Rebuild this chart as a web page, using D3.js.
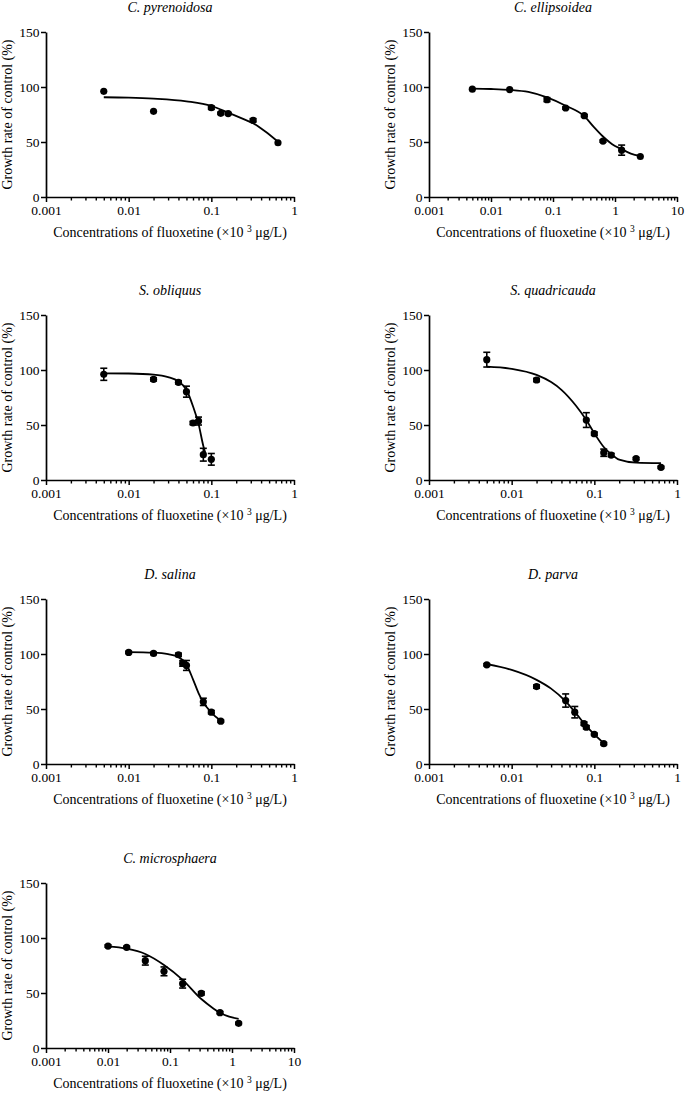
<!DOCTYPE html>
<html><head><meta charset="utf-8">
<script src="https://cdn.jsdelivr.net/npm/d3@7"></script>
<style>
body{margin:0;background:#fff}
text{font-family:"Liberation Serif","Times New Roman",serif;fill:#000}
</style>
</head><body><svg id="c" width="685" height="1093"></svg>
<script>
// ---------- DATA ----------
const xTickValues = [0.001, 0.01, 0.1, 1, 10];
const xTickLabels = ["0.001", "0.01", "0.1", "1", "10"];
const yTickValues = [0, 50, 100, 150];
const yTickLabels = ["0", "50", "100", "150"];
const xAxisTitle = "Concentrations of fluoxetine (\u00d710";
const xAxisTitleSup = "3";
const xAxisTitleEnd = " \u03bcg/L)";
const yAxisTitle = "Growth rate of control (%)";

const titles = ["C. pyrenoidosa", "C. ellipsoidea", "S. obliquus", "S. quadricauda", "D. salina", "D. parva", "C. microsphaera"];
const xMax = [1, 10, 1, 1, 1, 1, 10];

// C. pyrenoidosa
const pyrConc = [0.005, 0.02, 0.1, 0.13, 0.16, 0.32, 0.64];
const pyrGrowth = [96.1, 77.9, 81.2, 76.1, 75.8, 69.7, 49.3];
const pyrErr = [0, 0, 1.5, 1, 1, 1.5, 0];
const pyrFitX = [0.005, 0.01, 0.02, 0.05, 0.1, 0.13, 0.16, 0.25, 0.32, 0.45, 0.64];
const pyrFitY = [90.7, 90.3, 89.4, 87, 82.8, 79.5, 76.7, 70.5, 67, 59.5, 50.2];

// C. ellipsoidea
const ellConc = [0.005, 0.02, 0.08, 0.16, 0.32, 0.64, 1.28, 2.56];
const ellGrowth = [98.0, 97.7, 88.5, 80.9, 73.9, 50.8, 42.6, 36.8];
const ellErr = [0, 0, 1.8, 1, 1, 1, 4.6, 0];
const ellFitX = [0.005, 0.01, 0.02, 0.04, 0.08, 0.16, 0.32, 0.45, 0.64, 0.9, 1.28, 1.8, 2.56];
const ellFitY = [98.6, 98.2, 97.4, 95.5, 90.5, 83, 73.5, 64, 55, 48, 43.5, 39.5, 37.4];

// S. obliquus
const oblConc = [0.005, 0.02, 0.04, 0.05, 0.06, 0.07, 0.08, 0.1];
const oblGrowth = [96.1, 91.5, 88.8, 80.3, 51.8, 53.6, 23.0, 18.8];
const oblErr = [5.5, 1.5, 1.5, 5.0, 1.5, 3.6, 5.8, 5.3];
const oblFitX = [0.005, 0.01, 0.02, 0.03, 0.04, 0.05, 0.06, 0.07, 0.08, 0.085];
const oblFitY = [97, 96.8, 95.8, 93.5, 89.5, 82, 67, 51, 31, 24];

// S. quadricauda
const quaConc = [0.005, 0.02, 0.08, 0.1, 0.13, 0.16, 0.32, 0.64];
const quaGrowth = [109.4, 90.9, 54.5, 42.1, 24.8, 22.7, 19.4, 11.5];
const quaErr = [6.7, 1.5, 6.7, 1.5, 3.3, 1.5, 1, 1];
const quaFitX = [0.005, 0.01, 0.02, 0.03, 0.04, 0.06, 0.08, 0.1, 0.13, 0.16, 0.2, 0.32, 0.64];
const quaFitY = [103, 101, 95.5, 89, 82, 67.5, 54.5, 42.5, 30, 23.5, 18.5, 15.8, 15.3];

// D. salina
const salConc = [0.01, 0.02, 0.04, 0.045, 0.05, 0.08, 0.1, 0.13];
const salGrowth = [101.4, 100.5, 99.3, 91.4, 89.6, 56.5, 47.1, 38.9];
const salErr = [1, 1, 1.5, 2.5, 4.5, 3.3, 1.5, 1];
const salFitX = [0.01, 0.02, 0.03, 0.04, 0.05, 0.06, 0.07, 0.08, 0.1, 0.13];
const salFitY = [101.7, 101.2, 99.8, 97.2, 90.5, 77, 64.5, 56, 46.8, 39.5];

// D. parva
const parConc = [0.005, 0.02, 0.045, 0.058, 0.075, 0.08, 0.1, 0.13];
const parGrowth = [90.2, 70.4, 57.7, 47.1, 36.7, 33.4, 27.0, 18.5];
const parErr = [1, 1.5, 6, 5.2, 1.5, 1.5, 1, 1];
const parFitX = [0.005, 0.01, 0.02, 0.03, 0.045, 0.06, 0.08, 0.1, 0.13];
const parFitY = [90.7, 85.5, 76.5, 68.5, 57, 46, 34.5, 27, 19];

// C. microsphaera
const micConc = [0.01, 0.02, 0.04, 0.08, 0.16, 0.32, 0.64, 1.28];
const micGrowth = [92.7, 91.5, 79.4, 69.7, 58.5, 49.7, 32.1, 22.4];
const micErr = [1, 1, 4, 4, 4, 1.5, 1, 1];
const micFitX = [0.01, 0.02, 0.04, 0.08, 0.16, 0.32, 0.5, 0.64, 0.9, 1.28];
const micFitY = [92.4, 90.3, 85.5, 75.5, 62, 44.5, 36, 32, 28.5, 26.5];

const panels = [
  [pyrConc, pyrGrowth, pyrErr, pyrFitX, pyrFitY],
  [ellConc, ellGrowth, ellErr, ellFitX, ellFitY],
  [oblConc, oblGrowth, oblErr, oblFitX, oblFitY],
  [quaConc, quaGrowth, quaErr, quaFitX, quaFitY],
  [salConc, salGrowth, salErr, salFitX, salFitY],
  [parConc, parGrowth, parErr, parFitX, parFitY],
  [micConc, micGrowth, micErr, micFitX, micFitY]
].map((a, i) => ({
  title: titles[i], xmax: xMax[i],
  pts: a[0].map((c, j) => ({x: c, y: a[1][j], e: a[2][j]})),
  fit: a[3].map((c, j) => ({x: c, y: a[4][j]}))
}));

// ---------- LAYOUT ----------
const colLeft = [46, 429];
const rowTop = [32, 315, 599, 883];
const PW = 248, PH = 165;
const FONT = "'Liberation Serif','Times New Roman',serif";

const svg = d3.select("#c");

panels.forEach((p, i) => {
  const L = colLeft[i % 2], T = rowTop[Math.floor(i / 2)];
  const g = svg.append("g").attr("transform", `translate(${L},${T})`);
  const x = d3.scaleLog().domain([0.001, p.xmax]).range([0, PW]);
  const y = d3.scaleLinear().domain([0, 150]).range([PH, 0]);

  const majors = xTickValues.filter(v => v <= p.xmax * 1.0001);
  const minors = x.ticks().filter(v => !majors.some(m => Math.abs(m - v) / m < 1e-6));

  // minor ticks
  const gm = g.append("g").attr("transform", `translate(0,${PH})`)
    .call(d3.axisBottom(x).tickValues(minors).tickSize(3.5).tickSizeOuter(0).tickFormat(""));
  gm.select(".domain").remove();
  gm.selectAll("line").attr("stroke-width", 1.4);

  // major x axis
  const gx = g.append("g").attr("transform", `translate(0,${PH})`)
    .call(d3.axisBottom(x).tickValues(majors).tickSize(5).tickSizeOuter(0).tickPadding(3.5)
      .tickFormat(v => xTickLabels[xTickValues.indexOf(v)]));
  gx.attr("font-family", FONT).attr("font-size", 13.5);
  gx.select(".domain").attr("stroke-width", 1.7);
  gx.selectAll("line").attr("stroke-width", 1.5);

  // y axis
  const gy = g.append("g")
    .call(d3.axisLeft(y).tickValues(yTickValues).tickSize(5).tickSizeOuter(0).tickPadding(1.5)
      .tickFormat(v => yTickLabels[yTickValues.indexOf(v)]));
  gy.attr("font-family", FONT).attr("font-size", 13.5);
  gy.select(".domain").attr("stroke-width", 1.7);
  gy.selectAll("line").attr("stroke-width", 1.5);

  // fit curve
  g.append("path").datum(p.fit)
    .attr("fill", "none").attr("stroke", "#000").attr("stroke-width", 1.8)
    .attr("d", d3.line().x(d => x(d.x)).y(d => y(d.y)).curve(d3.curveMonotoneX));

  // error bars
  const eb = g.append("g").attr("stroke", "#000").attr("stroke-width", 1.6);
  p.pts.filter(d => d.e > 0).forEach(d => {
    const cx = x(d.x);
    eb.append("line").attr("x1", cx).attr("x2", cx).attr("y1", y(d.y - d.e)).attr("y2", y(d.y + d.e));
    [d.y - d.e, d.y + d.e].forEach(v => {
      eb.append("line").attr("x1", cx - 3.5).attr("x2", cx + 3.5).attr("y1", y(v)).attr("y2", y(v));
    });
  });

  // points
  g.append("g").selectAll("circle").data(p.pts).join("circle")
    .attr("cx", d => x(d.x)).attr("cy", d => y(d.y)).attr("r", 3.6).attr("fill", "#000");

  // title
  g.append("text").attr("x", PW / 2).attr("y", -20).attr("text-anchor", "middle")
    .attr("font-family", FONT).attr("font-size", 14).attr("font-style", "italic").text(p.title);

  // x axis title
  const xt = g.append("text").attr("x", PW / 2).attr("y", PH + 40).attr("text-anchor", "middle")
    .attr("font-family", FONT).attr("font-size", 14);
  xt.append("tspan").text(xAxisTitle + " ");
  xt.append("tspan").attr("font-size", 9.5).attr("dy", -5.5).text(xAxisTitleSup);
  xt.append("tspan").attr("dy", 5.5).text(xAxisTitleEnd);

  // y axis title
  g.append("text").attr("transform", `translate(-34,${PH / 2}) rotate(-90)`)
    .attr("text-anchor", "middle").attr("font-family", FONT).attr("font-size", 14).text(yAxisTitle);
});
</script></body></html>
